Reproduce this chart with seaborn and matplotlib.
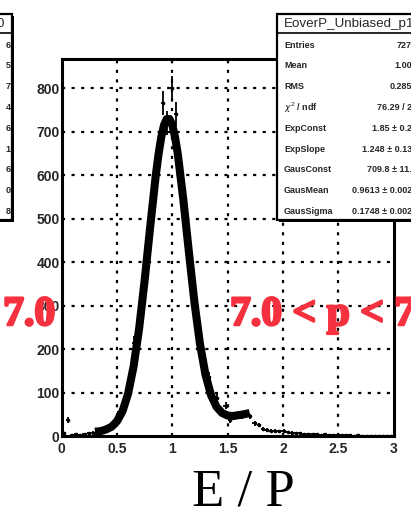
"""
E/P distribution (unbiased, 7.0 < p < 7.5) with Gaussian + exponential fit,
ROOT-style frame, stats box and cut-off neighbour pads.
"""
import numpy as np
import matplotlib
matplotlib.use("Agg")
import matplotlib.pyplot as plt
import matplotlib.patheffects as pe
import seaborn as sns
from matplotlib.patches import Rectangle
from matplotlib.ticker import MultipleLocator

sns.set_theme(style="white")
plt.rcParams["font.family"] = ["Liberation Sans", "DejaVu Sans"]

W, H = 411, 513

# -----------------------------------------------------------------------------
# Data
# -----------------------------------------------------------------------------
bin_width = 0.0375
bin_edges = np.linspace(0.0, 3.0, 81)
bin_centres = 0.5 * (bin_edges[:-1] + bin_edges[1:])
counts = [
    6, 37, 3, 4, 3, 5, 6, 8, 12, 10,
    15, 19, 23, 50, 56, 78, 125, 215, 232, 318,
    410, 500, 580, 655, 765, 720, 800, 740, 610, 525,
    430, 345, 265, 200, 150, 135, 85, 88, 60, 70,
    36, 44, 50, 45, 52, 45, 29, 25, 17, 14,
    12, 12, 11, 12, 9, 8, 7, 6, 5, 5,
    4, 4, 3, 4, 3, 2, 3, 2, 2, 2,
    1, 2, 1, 1, 1, 1, 0, 1, 0, 0,
]

fit_x = [0.30, 0.35, 0.40, 0.45, 0.50, 0.55, 0.60, 0.65, 0.70, 0.75,
         0.80, 0.85, 0.875, 0.90, 0.925, 0.95, 0.975, 1.00, 1.025, 1.05,
         1.10, 1.15, 1.20, 1.25, 1.30, 1.35, 1.40, 1.45, 1.50, 1.55,
         1.60, 1.65, 1.70]
fit_y = [10, 11, 15, 21, 34, 57, 97, 160, 247, 358,
         481, 598, 647, 687, 715, 729, 729, 715, 687, 648,
         543, 423, 308, 212, 141, 94, 67, 53, 47, 46,
         48, 50, 53]

stat_title = "EoverP_Unbiased_p14"
stat_labels = ["Entries", "Mean", "RMS", r"$\chi^2$ / ndf", "ExpConst",
               "ExpSlope", "GausConst", "GausMean", "GausSigma"]
stat_values = ["7274", "1.004", "0.2853", "76.29 / 24", "1.85 ± 0.24",
               "1.248 ± 0.131", "709.8 ± 11.3",
               "0.9613 ± 0.0023", "0.1748 ± 0.0023"]
left_box_tail = ["6", "5", "7", "4", "6", "1", "6", "0", "8"]

x_ticks = [0, 0.5, 1, 1.5, 2, 2.5, 3]
x_ticklabels = ["0", "0.5", "1", "1.5", "2", "2.5", "3"]
y_ticks = [0, 100, 200, 300, 400, 500, 600, 700, 800]


def fx(x):
    return x / W


def fy(y):
    return 1 - y / H


# -----------------------------------------------------------------------------
# Figure and frame
# -----------------------------------------------------------------------------
fig = plt.figure(figsize=(W / 100, H / 100), dpi=100)
fig.patch.set_facecolor("white")
ax = fig.add_axes([fx(61.7), fy(436), (393.5 - 61.7) / W, (436 - 59) / H])
ax.set_facecolor("white")

ax.set_xlim(0, 3)
ax.set_ylim(0, 867)

grid_style = dict(color="black", lw=1.6, linestyle=(0, (1.4, 2.9)), zorder=1)
for gx in x_ticks[1:-1]:
    ax.axvline(gx, **grid_style)
for gy in y_ticks[1:]:
    ax.axhline(gy, **grid_style)

# histogram points with errors
ax.errorbar(bin_centres, counts, yerr=np.sqrt(counts), xerr=bin_width / 2,
            fmt="o", ms=1.6, color="black", ecolor="black", elinewidth=1.3,
            capsize=0, zorder=3)

# fitted function
sns.lineplot(x=fit_x, y=fit_y, color="black", lw=5.8, ax=ax, zorder=4,
             solid_capstyle="butt", solid_joinstyle="round")

for s in ax.spines.values():
    s.set_color("black")
    s.set_linewidth(2.2)
    s.set_visible(True)

ax.set_xticks(x_ticks)
ax.set_xticklabels(x_ticklabels)
ax.set_yticks(y_ticks)
ax.xaxis.set_minor_locator(MultipleLocator(0.1))
ax.yaxis.set_minor_locator(MultipleLocator(20))
ax.tick_params(axis="both", which="major", direction="in", length=9,
               width=1.6, color="black", labelsize=10, top=False, right=False)
ax.tick_params(axis="both", which="minor", direction="in", length=5,
               width=1.4, color="black", top=False, right=False)
ax.tick_params(axis="y", which="major", pad=1.5)
ax.tick_params(axis="x", which="major", pad=4)
for lab in ax.get_xticklabels() + ax.get_yticklabels():
    lab.set_fontweight("bold")
ax.set_xlabel("")
ax.set_ylabel("")

# -----------------------------------------------------------------------------
# Texts
# -----------------------------------------------------------------------------
fig.text(fx(243), fy(506), "E / P", family="Liberation Serif", fontsize=38,
         ha="center", va="baseline", color="black")

red = "#f5303f"
thick = [pe.withStroke(linewidth=1.8, foreground=red)]
fig.text(fx(230), fy(325), "7.0 < p < 7.5", family="Liberation Serif",
         fontweight="bold", fontsize=30, color=red, va="baseline", ha="left",
         zorder=10, path_effects=thick)
fig.text(fx(55), fy(325), "6.5 < p < 7.0", family="Liberation Serif",
         fontweight="bold", fontsize=30, color=red, va="baseline", ha="right",
         zorder=10, path_effects=thick)

# -----------------------------------------------------------------------------
# Stats box (right, partly outside the pad) and edge of the neighbour's box
# -----------------------------------------------------------------------------
def stat_box(x0, x1, y0, y1):
    shadow = Rectangle((fx(x0 + 2), fy(y1 + 2)), fx(x1 - x0), (y1 - y0) / H,
                       transform=fig.transFigure, facecolor="black",
                       edgecolor="none", zorder=20)
    box = Rectangle((fx(x0), fy(y1)), fx(x1 - x0), (y1 - y0) / H,
                    transform=fig.transFigure, facecolor="white",
                    edgecolor="black", lw=1.6, zorder=21)
    fig.patches.extend([shadow, box])
    fig.lines.append(plt.Line2D([fx(x0), fx(x1)], [fy(33), fy(33)],
                                transform=fig.transFigure, color="black",
                                lw=1.2, zorder=22))


stat_box(277, 440, 14, 220)
stat_box(-60, 12, 14, 220)

fig.text(fx(284), fy(24), stat_title, fontsize=9.6, ha="left", va="center",
         zorder=23)
fig.text(fx(4), fy(24), "0", fontsize=9.6, ha="right", va="center", zorder=23)
for i, (lab, val, tail) in enumerate(zip(stat_labels, stat_values,
                                         left_box_tail)):
    yy = 45 + i * 20.8
    fig.text(fx(284), fy(yy), lab, fontsize=6.5, fontweight="bold",
             ha="left", va="center", zorder=23)
    fig.text(fx(417), fy(yy), val, fontsize=6.5, fontweight="bold",
             ha="right", va="center", zorder=23)
    fig.text(fx(10.5), fy(yy), tail, fontsize=6.5, fontweight="bold",
             ha="right", va="center", zorder=23)

fig.savefig("out.png", dpi=100)
plt.close(fig)
